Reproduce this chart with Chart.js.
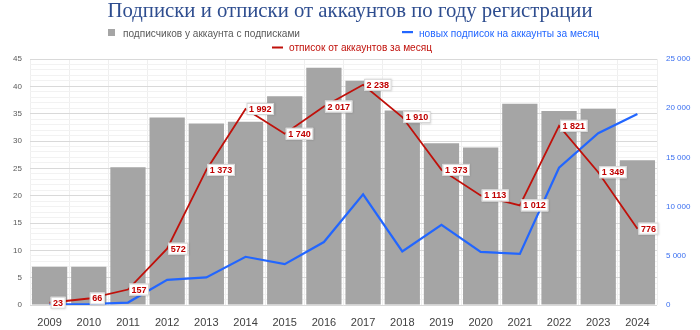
<!DOCTYPE html>
<html>
<head>
<meta charset="utf-8">
<script src="https://cdn.jsdelivr.net/npm/chart.js@4/dist/chart.umd.min.js"></script>
<style>
  html, body { margin: 0; padding: 0; background: #fff; }
  #wrap { width: 700px; height: 330px; position: relative; }
</style>
</head>
<body>
<div id="wrap"><canvas id="chart"></canvas></div>
<script>
const years = ["2009", "2010", "2011", "2012", "2013", "2014", "2015", "2016",
  "2017", "2018", "2019", "2020", "2021", "2022", "2023", "2024"];
// подписчиков у аккаунта с подписками (left axis)
const subscribers = [7, 7, 25.2, 34.3, 33.2, 33.5, 38.2, 43.4, 41.0, 35.6, 29.6, 28.8, 36.8, 35.5, 35.9, 26.5];
// новых подписок на аккаунты за месяц (right axis)
const newSubs = [70, 100, 250, 2550, 2800, 4900, 4150, 6400, 11250, 5450, 8150, 5400, 5200, 13950, 17450, 19400];
// отписок от аккаунтов за месяц (labelled)
const unsubs = [23, 66, 157, 572, 1373, 1992, 1740, 2017, 2238, 1910, 1373, 1113, 1012, 1821, 1349, 776];

const titleText = "Подписки и отписки от аккаунтов по году регистрации";
const legendNames = ["подписчиков у аккаунта с подписками", "новых подписок на аккаунты за месяц", "отписок от аккаунтов за месяц"];

const grey = "#a5a5a5";
const blue = "#2266ff";
const red = "#c0100a";

function fmt(v) {
  return String(v).replace(/\B(?=(\d{3})+(?!\d))/g, " ");
}

// draw text squeezed/stretched to a given width
function fitText(ctx, text, x, y, width) {
  const w = ctx.measureText(text).width;
  ctx.save();
  ctx.translate(x, y);
  ctx.scale(width / w, 1);
  ctx.fillText(text, 0, 0);
  ctx.restore();
}

const headerPlugin = {
  id: "header",
  afterDraw(chart) {
    const ctx = chart.ctx;
    ctx.save();
    ctx.textBaseline = "alphabetic";
    ctx.textAlign = "left";
    // title
    ctx.fillStyle = "#2e4d8f";
    ctx.font = '21px "Liberation Serif"';
    fitText(ctx, titleText, 107.5, 17, 485);
    // legend
    ctx.font = '10px "Liberation Sans"';
    ctx.fillStyle = grey;
    ctx.fillRect(108, 29, 7, 7);
    ctx.fillStyle = "#595959";
    fitText(ctx, legendNames[0], 123, 36.5, 177);
    ctx.fillStyle = blue;
    ctx.fillRect(402, 31, 11, 2.2);
    fitText(ctx, legendNames[1], 419, 36.5, 180);
    ctx.fillStyle = red;
    ctx.fillRect(272, 46.5, 11, 2);
    fitText(ctx, legendNames[2], 289, 51, 143);
    ctx.restore();
  },
};

const labelPlugin = {
  id: "redLabels",
  afterDatasetsDraw(chart) {
    const ctx = chart.ctx;
    const meta = chart.getDatasetMeta(2);
    ctx.save();
    ctx.font = 'bold 9px "Liberation Sans"';
    ctx.textBaseline = "middle";
    ctx.textAlign = "left";
    meta.data.forEach((pt, i) => {
      const txt = fmt(unsubs[i]);
      const w = ctx.measureText(txt).width + 5;
      const h = 12;
      const bx = pt.x + 1;
      const by = pt.y - h / 2;
      ctx.shadowColor = "rgba(0,0,0,0.18)";
      ctx.shadowBlur = 2;
      ctx.shadowOffsetX = 0.5;
      ctx.shadowOffsetY = 0.5;
      ctx.fillStyle = "#ffffff";
      ctx.fillRect(bx, by, w, h);
      ctx.shadowColor = "transparent";
      ctx.strokeStyle = "#d6d6d6";
      ctx.lineWidth = 1;
      ctx.strokeRect(bx + 0.5, by + 0.5, w - 1, h - 1);
      ctx.fillStyle = "#c00000";
      ctx.fillText(txt, bx + 2.5, pt.y + 0.5);
    });
    ctx.restore();
  },
};

new Chart(document.getElementById("chart"), {
  type: "bar",
  data: {
    labels: years,
    datasets: [
      {
        type: "bar",
        label: legendNames[0],
        data: subscribers,
        backgroundColor: grey,
        yAxisID: "y",
        barPercentage: 0.9,
        categoryPercentage: 1,
        order: 3,
      },
      {
        type: "line",
        label: legendNames[1],
        data: newSubs,
        borderColor: blue,
        borderWidth: 2.2,
        pointRadius: 0,
        tension: 0,
        yAxisID: "y1",
        order: 2,
      },
      {
        type: "line",
        label: legendNames[2],
        data: unsubs,
        borderColor: red,
        borderWidth: 1.8,
        pointRadius: 0,
        tension: 0,
        yAxisID: "y2",
        order: 1,
      },
    ],
  },
  options: {
    responsive: true,
    maintainAspectRatio: false,
    animation: false,
    layout: { padding: { top: 59, left: 0, right: 0, bottom: 0 } },
    plugins: {
      legend: { display: false },
      title: { display: false },
      tooltip: { enabled: false },
    },
    scales: {
      x: {
        grid: { color: "#efefef", offset: true, drawTicks: false },
        border: { display: false },
        ticks: { color: "#404040", font: { family: "Liberation Sans", size: 11 }, padding: 11 },
        afterFit: (s) => { s.height = 25; },
      },
      yMinor: {
        position: "left",
        min: 0,
        max: 45,
        ticks: { stepSize: 1, display: false },
        grid: { color: "#f2f2f2", drawTicks: false },
        border: { display: false },
        afterFit: (s) => { s.width = 0; },
      },
      y: {
        position: "left",
        min: 0,
        max: 45,
        ticks: { stepSize: 5, color: "#595959", font: { family: "Liberation Sans", size: 8 }, padding: 8 },
        grid: { color: "#d9d9d9", drawTicks: false },
        border: { display: false },
        afterFit: (s) => { s.width = 30; },
      },
      y1: {
        position: "right",
        min: 0,
        max: 25000,
        ticks: {
          stepSize: 5000,
          color: "#3a6ff0",
          font: { family: "Liberation Sans", size: 8 },
          padding: 9,
          callback: (v) => fmt(v),
        },
        grid: { display: false, drawTicks: false },
        border: { display: false },
        afterFit: (s) => { s.width = 43; },
      },
      y2: {
        display: false,
        min: 0,
        max: 2500,
      },
    },
  },
  plugins: [headerPlugin, labelPlugin],
});
</script>
</body>
</html>
